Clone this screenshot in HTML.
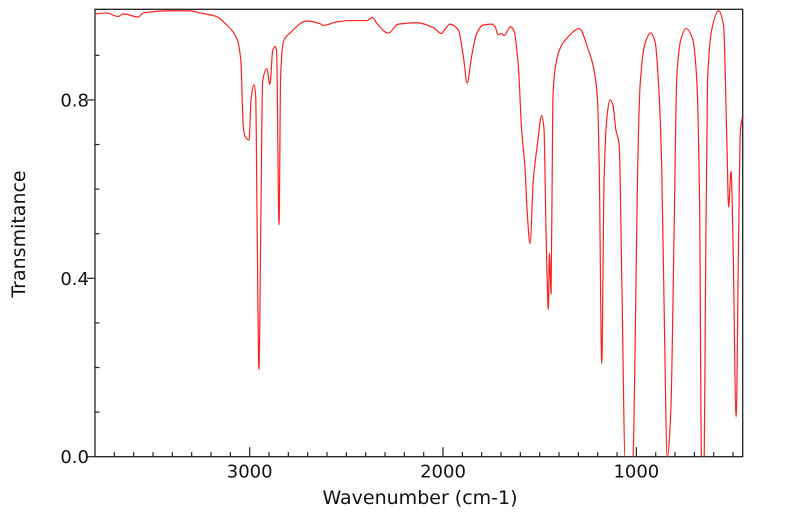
<!DOCTYPE html>
<html><head><meta charset="utf-8"><style>
html,body{margin:0;padding:0;background:#fff;}
svg{display:block;font-family:"DejaVu Sans","Liberation Sans",sans-serif;}
</style></head><body>
<svg id="chart" width="799" height="516" viewBox="0 0 799 516" xmlns="http://www.w3.org/2000/svg">
<defs><clipPath id="clip"><rect x="95" y="9.3" width="647.7" height="447.4"/></clipPath></defs>
<rect x="95" y="9.3" width="647.7" height="447.4" fill="none" stroke="#222" stroke-width="1.3"/>
<g id="ticks"></g>
<path id="spectrum" clip-path="url(#clip)" fill="none" stroke="#ff2020" stroke-width="1.2" stroke-linejoin="round"/>
<text transform="translate(25,234) rotate(-90)" text-anchor="middle" font-size="19" fill="#111">Transmitance</text>
<text x="420" y="504" text-anchor="middle" font-size="19" fill="#111">Wavenumber (cm-1)</text>
</svg>
<script>
const wavenumbers = [3800,3740,3680,3654,3576,3550,3395,3309,3257,3171,3119,3067,3046,3033,3024,3003,2993,2978,2969,2961,2952,2943,2933,2912,2895,2881,2869,2861,2848,2840,2826,2791,2705,2636,2619,2550,2481,2395,2364,2343,2283,2231,2136,2050,2007,1995,1964,1921,1895,1875,1852,1826,1792,1748,1731,1714,1697,1685,1650,1633,1611,1593,1576,1564,1550,1533,1512,1490,1478,1467,1455,1450,1441,1432,1421,1395,1360,1295,1248,1231,1213,1201,1192,1179,1167,1153,1136,1122,1106,1089,1075,1058,1018,1006,994,981,955,926,903,881,869,857,840,822,805,791,770,743,708,687,673,663,649,643,632,609,575,549,531,523,510,500,484,471,462,452];
const transmittance = [0.993,0.995,0.987,0.993,0.986,0.995,1.0,1.0,0.995,0.987,0.968,0.938,0.89,0.74,0.718,0.71,0.80,0.834,0.81,0.50,0.195,0.50,0.84,0.87,0.835,0.91,0.92,0.91,0.52,0.85,0.93,0.95,0.977,0.971,0.967,0.975,0.978,0.978,0.985,0.972,0.95,0.97,0.973,0.962,0.949,0.955,0.97,0.957,0.898,0.838,0.898,0.949,0.968,0.97,0.964,0.946,0.949,0.944,0.964,0.955,0.879,0.73,0.648,0.544,0.478,0.62,0.70,0.765,0.736,0.50,0.33,0.456,0.365,0.80,0.867,0.915,0.938,0.96,0.912,0.89,0.852,0.80,0.65,0.209,0.62,0.757,0.80,0.79,0.733,0.70,0.39,-0.003,-0.003,0.26,0.63,0.83,0.927,0.95,0.93,0.80,0.65,0.35,-0.003,0.10,0.50,0.85,0.935,0.96,0.935,0.84,0.57,-0.003,-0.003,0.35,0.84,0.96,1.0,0.967,0.69,0.56,0.64,0.48,0.09,0.50,0.73,0.76];
const xMajorTicks = [3000,2000,1000];
const xTickLabels = ["3000","2000","1000"];
const yMajorTicks = [0.0,0.4,0.8];
const yTickLabels = ["0.0","0.4","0.8"];
const xDomain = [3800,450];
const yDomain = [0,1.0032];

const X0=95, X1=742.7, Y0=456.7, Y1=9.3;
function xs(w){return X0+(w-xDomain[0])/(xDomain[1]-xDomain[0])*(X1-X0);}
function ys(t){return Y0-(t-yDomain[0])/(yDomain[1]-yDomain[0])*(Y0-Y1);}

const NS="http://www.w3.org/2000/svg";
const px=wavenumbers.map(xs), py=transmittance.map(ys);
const n=px.length, dl=[], m=[];
for(let i=0;i<n-1;i++) dl.push((py[i+1]-py[i])/(px[i+1]-px[i]));
m[0]=dl[0]; m[n-1]=dl[n-2];
for(let i=1;i<n-1;i++){
  if(dl[i-1]*dl[i]<=0) m[i]=0;
  else { const h0=px[i]-px[i-1], h1=px[i+1]-px[i]; const w1=2*h1+h0, w2=h1+2*h0; m[i]=(w1+w2)/(w1/dl[i-1]+w2/dl[i]); }
}
let d="M"+px[0].toFixed(2)+","+py[0].toFixed(2);
for(let i=0;i<n-1;i++){
  const h=(px[i+1]-px[i])/3;
  d+="C"+(px[i]+h).toFixed(2)+","+(py[i]+m[i]*h).toFixed(2)+" "+(px[i+1]-h).toFixed(2)+","+(py[i+1]-m[i+1]*h).toFixed(2)+" "+px[i+1].toFixed(2)+","+py[i+1].toFixed(2);
}
document.getElementById("spectrum").setAttribute("d",d);

const g=document.getElementById("ticks");
function line(x1,y1,x2,y2,name){
  const l=document.createElementNS(NS,"line");
  l.setAttribute("x1",x1);l.setAttribute("y1",y1);l.setAttribute("x2",x2);l.setAttribute("y2",y2);
  l.setAttribute("stroke","#222");l.setAttribute("stroke-width","1.2");
  
  
  g.appendChild(l);
}
function label(x,y,txt,anchor,name){
  const t=document.createElementNS(NS,"text");
  t.setAttribute("x",x);t.setAttribute("y",y);t.setAttribute("text-anchor",anchor);
  t.setAttribute("font-size","18");t.setAttribute("fill","#111");
  t.textContent=txt;
  
  
  g.appendChild(t);
}
for(let w=3700;w>=500;w-=100){
  if(xMajorTicks.indexOf(w)>=0) continue;
  line(xs(w),Y0,xs(w),Y0-4.5,"x-minor-tick");
}
xMajorTicks.forEach((w,i)=>{
  line(xs(w),Y0,xs(w),Y0-9.5,"x-major-tick");
  label(xs(w),Y0+21,xTickLabels[i],"middle","x-tick-label");
});
for(let k=1;k<=9;k++){
  const v=k/10;
  if(yMajorTicks.some(mm=>Math.abs(mm-v)<1e-6)) continue;
  line(X0,ys(v),X0+4.5,ys(v),"y-minor-tick");
}
yMajorTicks.forEach((v,i)=>{
  line(X0-8,ys(v),X0,ys(v),"y-major-tick");
  label(X0-6,ys(v)+6.5,yTickLabels[i],"end","y-tick-label");
});
</script>
</body></html>
